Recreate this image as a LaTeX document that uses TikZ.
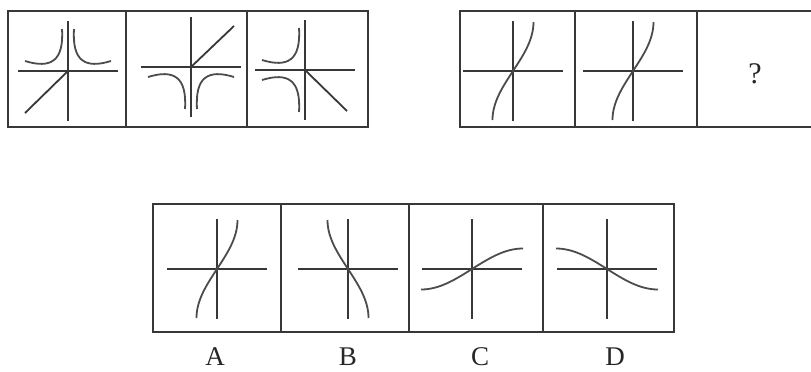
\documentclass[tikz,border=0pt]{standalone}
\usepackage{fontspec}
\setmainfont{Liberation Serif}
\begin{document}
\begin{tikzpicture}[x=1pt,y=-1pt,
  boxline/.style={line width=2.2pt, draw=black!78},
  axisline/.style={line width=1.8pt, draw=black!78},
  curveline/.style={line width=1.8pt, draw=black!70},
  hyp/.pic={\draw[curveline] (-43,-10) .. controls (-17,-2) and (-4,-10) .. (-6,-42);},
  tanc/.pic={\draw[curveline] plot[domain=-49:49, samples=41, smooth] ({20.5*sin(\x*90/49)}, {-\x});},
  atanc/.pic={\draw[curveline] plot[domain=-51:51, samples=41, smooth] ({\x}, {-20.5*sin(\x*90/51)});},
  axes/.pic={\draw[axisline] (-50,0) -- (50,0); \draw[axisline] (0,-50) -- (0,50);},
  lab/.style={font=\fontsize{27}{31}\selectfont, inner sep=0pt, text=black!85}
]
\useasboundingbox (0,0) rectangle (811,372);
\fill[white] (0,0) rectangle (811,372);

% ---- top-left panel
\draw[boxline] (8,11) rectangle (368,127);
\draw[boxline] (126,11) -- (126,127);
\draw[boxline] (247,11) -- (247,127);
% cell 1
\coordinate (o1) at (68,71);
\pic at (o1) {axes};
\draw[axisline] (o1) -- ++(-43,42);
\pic at (o1) {hyp};
\pic[xscale=-1] at (o1) {hyp};
% cell 2
\coordinate (o2) at (191,67);
\pic at (o2) {axes};
\draw[axisline] (o2) -- ++(43,-41);
\pic[yscale=-1] at (o2) {hyp};
\pic[xscale=-1,yscale=-1] at (o2) {hyp};
% cell 3
\coordinate (o3) at (305,70);
\pic at (o3) {axes};
\draw[axisline] (o3) -- ++(42,41);
\pic at (o3) {hyp};
\pic[yscale=-1] at (o3) {hyp};

% ---- top-right panel
\draw[boxline] (813,11) -- (460,11) -- (460,127) -- (813,127);
\draw[boxline] (575,11) -- (575,127);
\draw[boxline] (697,11) -- (697,127);
\coordinate (o4) at (513,71);
\pic at (o4) {axes};
\pic at (o4) {tanc};
\coordinate (o5) at (633,71);
\pic at (o5) {axes};
\pic at (o5) {tanc};
\node[lab, font=\fontsize{30}{34}\selectfont] (q) at (755,74) {?};

% ---- bottom panel
\draw[boxline] (153,204) rectangle (674,332);
\draw[boxline] (281,204) -- (281,332);
\draw[boxline] (409,204) -- (409,332);
\draw[boxline] (543,204) -- (543,332);
\coordinate (oA) at (217,269);
\pic at (oA) {axes};
\pic at (oA) {tanc};
\coordinate (oB) at (348,269);
\pic at (oB) {axes};
\pic[xscale=-1] at (oB) {tanc};
\coordinate (oC) at (472,269);
\pic at (oC) {axes};
\pic at (oC) {atanc};
\coordinate (oD) at (607,269);
\pic at (oD) {axes};
\pic[xscale=-1] at (oD) {atanc};

\node[lab] (la) at (215,357) {A};
\node[lab] (lb) at (348,357) {B};
\node[lab] (lc) at (480,357) {C};
\node[lab] (ld) at (615,357) {D};
\end{tikzpicture}
\end{document}
